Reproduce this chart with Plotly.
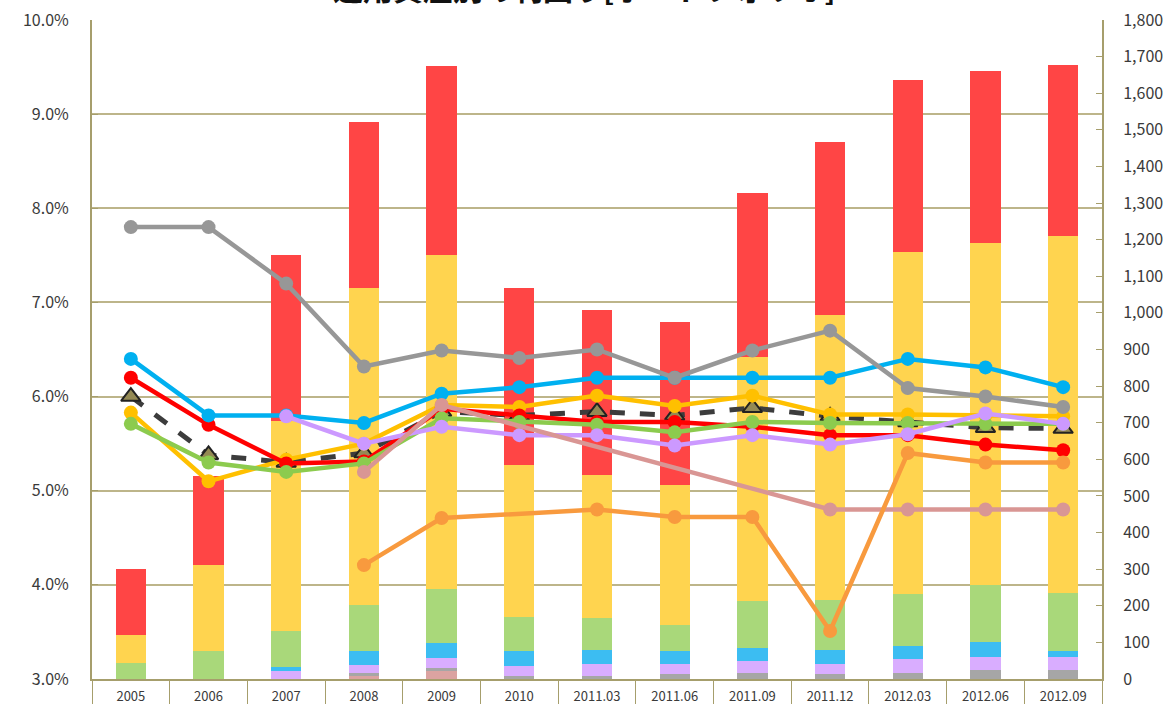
import plotly.graph_objects as go

categories = ["2005", "2006", "2007", "2008", "2009", "2010", "2011.03", "2011.06",
              "2011.09", "2011.12", "2012.03", "2012.06", "2012.09"]

# stacked bars (right axis)
bar_pink = [0, 0, 0, 8, 22, 0, 0, 0, 0, 0, 0, 0, 0]
bar_gray = [0, 0, 0, 8, 8, 8, 8, 14, 16, 14, 16, 25, 25]
bar_purple = [0, 0, 22, 22, 27, 28, 33, 27, 33, 27, 39, 35, 35]
bar_blue = [0, 0, 11, 39, 41, 41, 38, 36, 36, 38, 35, 41, 17]
bar_green = [44, 77, 98, 125, 148, 93, 88, 71, 128, 137, 142, 156, 158]
bar_yellow = [76, 235, 575, 865, 911, 415, 391, 383, 666, 777, 933, 935, 975]
bar_red = [181, 243, 451, 454, 517, 482, 449, 443, 448, 473, 471, 468, 467]

# yield lines (left axis, %)
line_avg = [6.0, 5.38, 5.3, 5.4, 5.84, 5.8, 5.84, 5.8, 5.88, 5.79, 5.73, 5.67, 5.66]
line_yellow = [5.83, 5.1, 5.33, 5.5, 5.91, 5.89, 6.01, 5.9, 6.01, 5.81, 5.81, 5.8, 5.79]
line_red = [6.2, 5.7, 5.29, 5.31, 5.87, 5.8, 5.73, 5.73, 5.68, 5.59, 5.59, 5.49, 5.43]
line_green = [5.71, 5.3, 5.2, 5.29, 5.77, 5.73, 5.7, 5.62, 5.73, 5.72, 5.72, 5.71, 5.71]
line_blue = [6.4, 5.8, 5.8, 5.72, 6.03, 6.1, 6.2, 6.2, 6.2, 6.2, 6.4, 6.31, 6.1]
line_gray = [7.8, 7.8, 7.2, 6.32, 6.49, 6.41, 6.5, 6.2, 6.49, 6.7, 6.09, 6.0, 5.89]
line_purple = [None, None, 5.79, 5.5, 5.68, 5.59, 5.59, 5.48, 5.59, 5.49, 5.6, 5.82, 5.71]
line_pink = [None, None, None, 5.2, 5.91, None, None, None, None, 4.8, 4.8, 4.8, 4.8]
line_orange = [None, None, None, 4.21, 4.71, None, 4.8, 4.72, 4.72, 3.51, 5.4, 5.3, 5.3]

title_text = "運用資産別の利回り[ポートフォリオ]"

AXIS = "#A69E6C"
GRID = "#BDB58A"
TXT = "#3A3A3A"
FONT = "Noto Sans CJK JP"

fig = go.Figure()

bar_specs = [
    (bar_pink, "#DBA3A1"),
    (bar_gray, "#A6A6A6"),
    (bar_purple, "#D9ADFF"),
    (bar_blue, "#3CBDF2"),
    (bar_green, "#A9D87A"),
    (bar_yellow, "#FFD44F"),
    (bar_red, "#FF4545"),
]
for vals, col in bar_specs:
    fig.add_trace(go.Bar(x=categories, y=vals, marker=dict(color=col, line=dict(width=0)),
                         width=0.39, yaxis="y", showlegend=False))

def add_line(vals, col, gaps=False):
    fig.add_trace(go.Scatter(x=categories, y=vals, mode="lines+markers", yaxis="y2",
                             line=dict(color=col, width=4.5), connectgaps=gaps,
                             marker=dict(size=14, color=col), showlegend=False))

fig.add_trace(go.Scatter(x=categories, y=line_avg, mode="lines+markers", yaxis="y2",
                         line=dict(color="#3C3C3C", width=5, dash="dash"),
                         marker=dict(symbol="triangle-up", size=17, color="#948A54",
                                     line=dict(color="#222222", width=2)),
                         showlegend=False))
add_line(line_yellow, "#FFC000")
add_line(line_red, "#FF0000")
add_line(line_green, "#8CCB4E")
add_line(line_blue, "#00B0F0")
add_line(line_gray, "#979797")
add_line(line_purple, "#CC99FF")
add_line(line_pink, "#D99694", gaps=True)
add_line(line_orange, "#F89A3E", gaps=True)

fig.update_layout(
    width=1175, height=704,
    margin=dict(l=92, r=73, t=20, b=25),
    paper_bgcolor="white", plot_bgcolor="white",
    barmode="stack", bargap=0.6,
    showlegend=False,
    font=dict(family=FONT, color=TXT),
    xaxis=dict(type="category", range=[-0.5, 12.5], showline=True, linecolor=AXIS, linewidth=2,
               ticks="outside", tickson="boundaries", ticklen=26, tickcolor=AXIS, tickwidth=1,
               ticklabelstandoff=4, tickfont=dict(size=13, color=TXT, family=FONT),
               showgrid=False, automargin=False),
    yaxis=dict(side="right", range=[0, 1800], dtick=100, tickformat=",d", showgrid=False,
               showline=True, linecolor=AXIS, linewidth=2, ticks="inside", ticklen=6,
               tickcolor=AXIS, ticklabelstandoff=16, tickfont=dict(size=16, color=TXT, family=FONT),
               zeroline=False, automargin=False),
    yaxis2=dict(overlaying="y", side="left", range=[3, 10], dtick=1, tickformat=".1f", ticksuffix="%",
                showgrid=True, gridcolor=GRID, gridwidth=1.5, showline=True, linecolor=AXIS,
                linewidth=2, ticks="inside", ticklen=6, tickcolor=AXIS, ticklabelstandoff=18,
                tickfont=dict(size=16, color=TXT, family=FONT), zeroline=False, automargin=False),
    annotations=[dict(text="<b>" + title_text + "</b>", xref="paper", yref="paper",
                      x=0.488, y=1.05, xanchor="center", yanchor="middle", showarrow=False,
                      font=dict(size=30, color="#111111", family=FONT))],
)

fig.write_html("out.html", config={"displayModeBar": False},
               post_script="document.body.style.margin='0';")
